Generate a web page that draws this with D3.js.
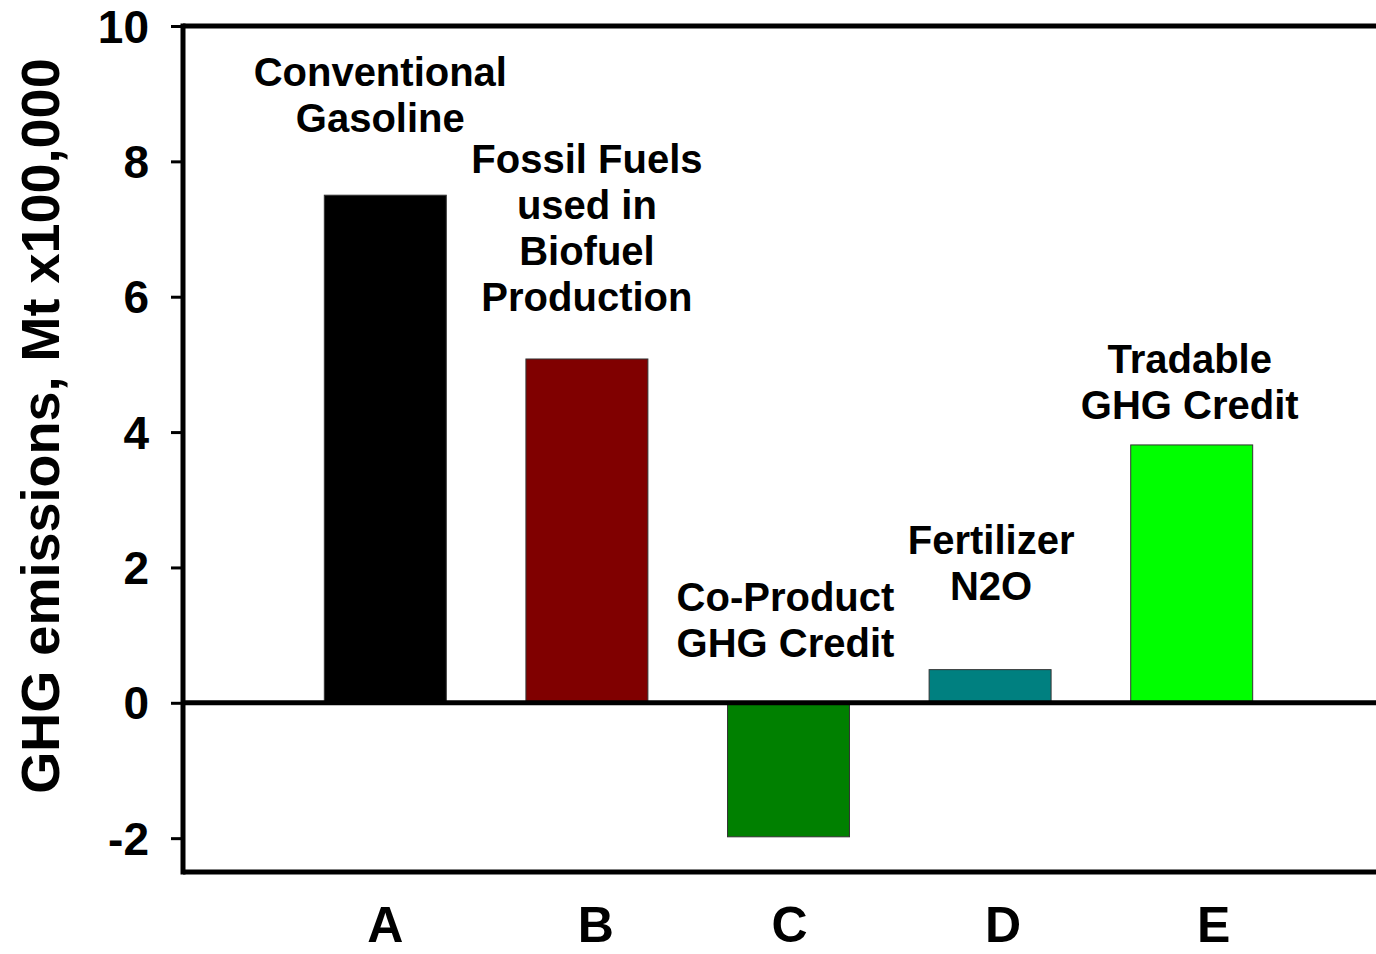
<!DOCTYPE html>
<html>
<head>
<meta charset="utf-8">
<script src="https://cdn.jsdelivr.net/npm/d3@7/dist/d3.min.js"></script>
<style>
  html, body { margin: 0; padding: 0; background: #fff; }
  svg { display: block; }
  text { font-family: "Liberation Sans", Arial, Helvetica, sans-serif; font-weight: bold; fill: #000; }
</style>
</head>
<body>
<svg id="chart" width="1376" height="954"></svg>
<script>
// ---- data ----
const categories = ["A", "B", "C", "D", "E"];
const values = [7.5, 5.08, -1.98, 0.49, 3.81];
const barColors = ["#000000", "#800000", "#008000", "#008080", "#00ff00"];
const annotations = [
  ["Conventional", "Gasoline"],
  ["Fossil Fuels", "used in", "Biofuel", "Production"],
  ["Co-Product", "GHG Credit"],
  ["Fertilizer", "N2O"],
  ["Tradable", "GHG Credit"]
];
const yTicks = [-2, 0, 2, 4, 6, 8, 10];
const yTitle = "GHG emissions, Mt x100,000";

// ---- layout ----
const W = 1376, H = 954;
const plot = { left: 183, top: 26, right: 1385, bottom: 872 };
const annotLayout = [
  { dx: -5, y: 86 },
  { dx: 0, y: 173 },
  { dx: -3, y: 611 },
  { dx: 1, y: 554 },
  { dx: -2, y: 373 }
];
const catLabelDx = [0, 9, 1, 13, 22];
const lineH = 46;

const svg = d3.select("#chart");

const y = d3.scaleLinear().domain([-2.5, 10]).range([plot.bottom, plot.top]);
const x = d3.scaleBand().domain(categories)
  .range([284.5, 1292.5]).paddingInner(0.395).paddingOuter(0.1975);

// bars
svg.append("g").selectAll("rect").data(values).join("rect")
  .attr("x", (d, i) => x(categories[i]))
  .attr("width", x.bandwidth())
  .attr("y", d => y(Math.max(0, d)))
  .attr("height", d => Math.abs(y(d) - y(0)))
  .attr("fill", (d, i) => barColors[i])
  .attr("stroke", "#333")
  .attr("stroke-width", 1);

// frame lines
const frame = svg.append("g").attr("stroke", "#000").attr("stroke-width", 5);
frame.append("line").attr("x1", plot.left).attr("x2", plot.right).attr("y1", plot.top).attr("y2", plot.top);
frame.append("line").attr("x1", plot.left).attr("x2", plot.right).attr("y1", plot.bottom).attr("y2", plot.bottom);
frame.append("line").attr("x1", plot.left).attr("x2", plot.right).attr("y1", y(0)).attr("y2", y(0));
frame.append("line").attr("x1", plot.left).attr("x2", plot.left).attr("y1", plot.top - 2.5).attr("y2", plot.bottom + 2.5);

// y axis
const yAxis = d3.axisLeft(y).tickValues(yTicks).tickSize(12).tickPadding(22).tickFormat(d => String(d));
const ya = svg.append("g").attr("transform", `translate(${plot.left},0)`).call(yAxis);
ya.select(".domain").remove();
ya.selectAll(".tick line").attr("stroke", "#000").attr("stroke-width", 3);
ya.selectAll(".tick text").style("font-size", "46px").attr("fill", "#000").attr("dy", "0.35em");

// y title
svg.append("text")
  .attr("transform", `translate(59, 426) rotate(-90)`)
  .attr("text-anchor", "middle")
  .style("font-size", "54px")
  .text(yTitle);

// category labels
svg.append("g").selectAll("text").data(categories).join("text")
  .attr("x", (d, i) => x(d) + x.bandwidth() / 2 + catLabelDx[i])
  .attr("y", 942)
  .attr("text-anchor", "middle")
  .style("font-size", "50px")
  .text(d => d);

// annotations
annotations.forEach((lines, i) => {
  const cx = x(categories[i]) + x.bandwidth() / 2 + annotLayout[i].dx;
  const t = svg.append("text")
    .attr("text-anchor", "middle")
    .style("font-size", "40px");
  lines.forEach((ln, j) => {
    t.append("tspan").attr("x", cx).attr("y", annotLayout[i].y + j * lineH).text(ln);
  });
});
</script>
</body>
</html>
